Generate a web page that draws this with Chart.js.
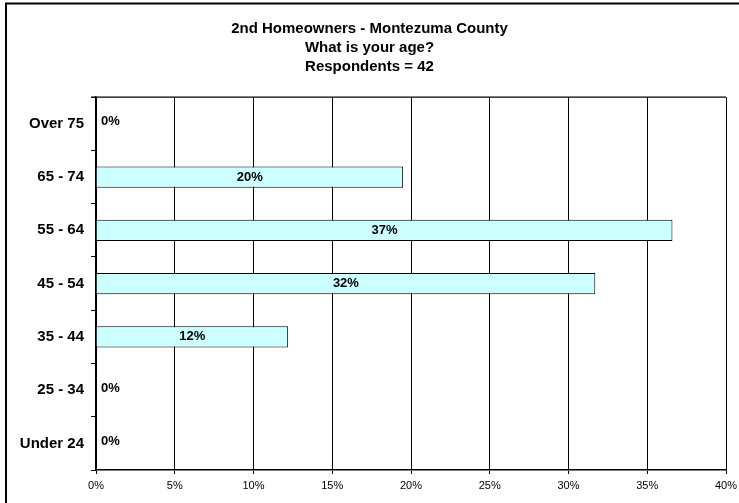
<!DOCTYPE html>
<html>
<head>
<meta charset="utf-8">
<script src="https://cdn.jsdelivr.net/npm/chart.js@4.4.1/dist/chart.umd.min.js"></script>
<style>
  html, body { margin: 0; padding: 0; background: #fff; }
  #wrap { width: 739px; height: 503px; }
</style>
</head>
<body>
<div id="wrap"><canvas id="ageChart" width="739" height="503"></canvas></div>
<script>
const titleLines = ['2nd Homeowners - Montezuma County', 'What is your age?', 'Respondents = 42'];
const ageGroups = ['Over 75', '65 - 74', '55 - 64', '45 - 54', '35 - 44', '25 - 34', 'Under 24'];
const shares = [0, 19.5, 36.6, 31.7, 12.2, 0, 0];
const tickValues = [0, 5, 10, 15, 20, 25, 30, 35, 40];

const FONT = "Arial, 'Liberation Sans', sans-serif";

// white page + outer frame + top edge of the plot
const framePlugin = {
    id: 'frame',
    beforeDraw(chart) {
        const ctx = chart.ctx;
        ctx.save();
        ctx.fillStyle = '#fff';
        ctx.fillRect(0, 0, chart.width, chart.height);
        ctx.restore();
    },
    afterDraw(chart) {
        const ctx = chart.ctx;
        const area = chart.chartArea;
        ctx.save();
        ctx.strokeStyle = '#000';
        ctx.lineWidth = 2;
        ctx.strokeRect(6, 3.5, chart.width + 20, chart.height + 20);
        ctx.lineWidth = 1.2;
        ctx.beginPath();
        ctx.moveTo(area.left - 5, area.top);
        ctx.lineTo(area.right, area.top);
        ctx.stroke();
        ctx.restore();
    }
};

// percentage written on each bar
const valueLabels = {
    id: 'valueLabels',
    afterDatasetsDraw(chart) {
        const ctx = chart.ctx;
        const meta = chart.getDatasetMeta(0);
        ctx.save();
        ctx.fillStyle = '#000';
        ctx.font = 'bold 13px ' + FONT;
        ctx.textBaseline = 'middle';
        meta.data.forEach(function(bar, i) {
            const p = bar.getProps(['x', 'y', 'base'], true);
            const txt = Math.round(shares[i]) + '%';
            if (shares[i] > 0) {
                ctx.textAlign = 'center';
                ctx.fillText(txt, (p.x + p.base) / 2, p.y);
            } else {
                ctx.textAlign = 'left';
                ctx.fillText(txt, chart.chartArea.left + 5, p.y - 2);
            }
        });
        ctx.restore();
    }
};

new Chart(document.getElementById('ageChart'), {
    type: 'bar',
    data: {
        labels: ageGroups,
        datasets: [{
            data: shares,
            backgroundColor: '#ccffff',
            borderColor: '#000',
            borderWidth: 1,
            barPercentage: 0.4,
            categoryPercentage: 1
        }]
    },
    options: {
        indexAxis: 'y',
        responsive: false,
        devicePixelRatio: 1,
        animation: false,
        layout: { padding: 0 },
        plugins: {
            legend: { display: false },
            tooltip: { enabled: false },
            title: {
                display: true,
                text: titleLines,
                color: '#000',
                font: { family: FONT, size: 15, weight: 'bold', lineHeight: 1.27 },
                padding: { top: 19, bottom: 21 }
            }
        },
        scales: {
            x: {
                min: 0,
                max: 40,
                afterBuildTicks(axis) {
                    axis.ticks = tickValues.map(v => ({ value: v }));
                },
                afterFit(axis) {
                    axis.height = 33;
                    axis.paddingRight = 13;
                },
                grid: { color: '#000', lineWidth: 1, tickLength: 4 },
                border: { color: '#000', width: 1.5 },
                ticks: {
                    color: '#000',
                    padding: 5,
                    maxRotation: 0,
                    font: { family: FONT, size: 11 },
                    callback: v => v + '%'
                }
            },
            y: {
                afterFit(axis) { axis.width = 96; },
                grid: { drawOnChartArea: false, color: '#000', tickLength: 5, offset: true },
                border: { color: '#000', width: 1.5 },
                ticks: {
                    color: '#000',
                    padding: 7,
                    font: { family: FONT, size: 15, weight: 'bold' }
                }
            }
        }
    },
    plugins: [framePlugin, valueLabels]
});
</script>
</body>
</html>
